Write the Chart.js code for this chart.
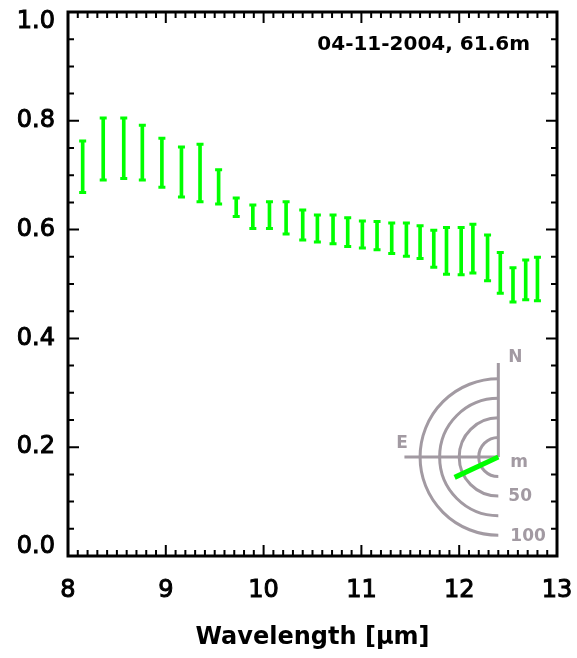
<!DOCTYPE html>
<html>
<head>
<meta charset="utf-8">
<script src="https://cdn.jsdelivr.net/npm/chart.js@4"></script>
<style>
  html, body { margin: 0; padding: 0; background: #fff; }
  #wrap { width: 577px; height: 658px; }
</style>
</head>
<body>
<div id="wrap"><canvas id="spec" width="577" height="658"></canvas></div>
<script>
// visibility per spectral channel: lower / upper bound of each error bar
const wavelength = [8.15, 8.36, 8.57, 8.76, 8.96, 9.16, 9.35, 9.54, 9.72, 9.89,
                    10.06, 10.23, 10.40, 10.55, 10.71, 10.86, 11.01, 11.16, 11.31, 11.46,
                    11.60, 11.74, 11.87, 12.02, 12.14, 12.29, 12.42, 12.55, 12.68, 12.80];
const upper = [0.763, 0.805, 0.805, 0.792, 0.768, 0.752, 0.757, 0.710, 0.658, 0.645,
               0.651, 0.651, 0.636, 0.627, 0.627, 0.622, 0.616, 0.615, 0.612, 0.612,
               0.607, 0.599, 0.604, 0.604, 0.610, 0.590, 0.558, 0.530, 0.544, 0.549];
const lower = [0.668, 0.691, 0.694, 0.691, 0.678, 0.660, 0.651, 0.647, 0.624, 0.602,
               0.602, 0.592, 0.581, 0.577, 0.574, 0.569, 0.566, 0.563, 0.556, 0.551,
               0.547, 0.531, 0.518, 0.517, 0.520, 0.506, 0.483, 0.467, 0.471, 0.469];

const obsLabel = '04-11-2004, 61.6m';

// projected baseline shown in the compass inset
const baselineLength = 61.6;   // m
const baselineAngle = 115;     // deg, from N through E
const rings = [25, 50, 75, 100];
const ringLabels = ['50', '100'];
const compassPos = [12.4, 0.182]; // centre, in data units
const compassSpan = 0.8;          // x-units covered by the 100 m ring

const GREEN = '#00ff00';
const GREY = '#a29aa2';
const FONT = 'DejaVu Sans';

// box with inward ticks on all four sides
const frame = {
  id: 'frame',
  afterDraw(chart) {
    const { ctx, chartArea: a, scales: { x, y } } = chart;
    ctx.save();
    ctx.strokeStyle = '#000';
    ctx.lineWidth = 2;
    ctx.beginPath();
    for (let i = 0; i <= 50; i++) {
      const px = x.getPixelForValue(8 + i * 0.1);
      const len = i % 10 === 0 ? 11 : 6;
      ctx.moveTo(px, a.bottom); ctx.lineTo(px, a.bottom - len);
      ctx.moveTo(px, a.top); ctx.lineTo(px, a.top + len);
    }
    for (let i = 0; i <= 20; i++) {
      const py = y.getPixelForValue(i * 0.05);
      const len = i % 4 === 0 ? 11 : 6;
      ctx.moveTo(a.left, py); ctx.lineTo(a.left + len, py);
      ctx.moveTo(a.right, py); ctx.lineTo(a.right - len, py);
    }
    ctx.stroke();
    ctx.lineWidth = 3;
    ctx.strokeRect(a.left, a.top, a.width, a.height);
    ctx.restore();
  }
};

// end caps for the floating bars
const caps = {
  id: 'caps',
  afterDatasetsDraw(chart) {
    const ctx = chart.ctx;
    const meta = chart.getDatasetMeta(0);
    ctx.save();
    ctx.strokeStyle = GREEN;
    ctx.lineWidth = 3;
    ctx.beginPath();
    meta.data.forEach(bar => {
      ctx.moveTo(bar.x - 3.5, bar.y); ctx.lineTo(bar.x + 3.5, bar.y);
      ctx.moveTo(bar.x - 3.5, bar.base); ctx.lineTo(bar.x + 3.5, bar.base);
    });
    ctx.stroke();
    ctx.restore();
  }
};

const dateLabel = {
  id: 'dateLabel',
  afterDraw(chart) {
    const { ctx, chartArea: a } = chart;
    ctx.save();
    ctx.font = `bold 20px "${FONT}"`;
    ctx.fillStyle = '#000';
    ctx.textAlign = 'right';
    ctx.textBaseline = 'alphabetic';
    ctx.fillText(obsLabel, a.right - 27, a.top + 38);
    ctx.restore();
  }
};

// N/E compass with rings every 25 m and the baseline in green
const compass = {
  id: 'compass',
  afterDraw(chart) {
    const { ctx, scales: { x, y } } = chart;
    const cx = x.getPixelForValue(compassPos[0]);
    const cy = y.getPixelForValue(compassPos[1]);
    const k = (x.getPixelForValue(compassPos[0] + compassSpan) - cx) / rings[rings.length - 1];
    const arm = 120 * k;
    ctx.save();
    ctx.strokeStyle = GREY;
    ctx.lineWidth = 3;
    ctx.beginPath();
    ctx.moveTo(cx, cy); ctx.lineTo(cx, cy - arm);
    ctx.moveTo(cx, cy); ctx.lineTo(cx - arm, cy);
    ctx.stroke();
    rings.forEach(r => {
      ctx.beginPath();
      ctx.arc(cx, cy, r * k, -Math.PI / 2, Math.PI / 2, true);
      ctx.stroke();
    });

    const t = baselineAngle * Math.PI / 180;
    ctx.strokeStyle = GREEN;
    ctx.lineWidth = 5;
    ctx.beginPath();
    ctx.moveTo(cx, cy);
    ctx.lineTo(cx - Math.sin(t) * baselineLength * k, cy - Math.cos(t) * baselineLength * k);
    ctx.stroke();

    ctx.fillStyle = GREY;
    ctx.font = `bold 17px "${FONT}"`;
    ctx.textBaseline = 'alphabetic';
    ctx.textAlign = 'left';
    ctx.fillText('N', cx + 10, cy - 95);
    ctx.fillText('E', cx - 102, cy - 9);
    ctx.fillText('m', cx + 12, cy + 10);
    ctx.fillText(ringLabels[0], cx + 10, cy + 44);
    ctx.fillText(ringLabels[1], cx + 12, cy + 84);
    ctx.restore();
  }
};

new Chart(document.getElementById('spec'), {
  type: 'bar',
  data: {
    datasets: [{
      data: wavelength.map((w, i) => ({ x: w, y: [lower[i], upper[i]] })),
      backgroundColor: GREEN,
      borderWidth: 0,
      barThickness: 3
    }]
  },
  options: {
    responsive: false,
    animation: false,
    layout: { padding: { top: 12, right: 20, left: 0, bottom: 0 } },
    plugins: { legend: { display: false }, tooltip: { enabled: false } },
    scales: {
      x: {
        type: 'linear',
        min: 8, max: 13,
        offset: false,
        grid: { display: false, drawTicks: false },
        border: { display: false },
        ticks: {
          stepSize: 1, padding: 20, color: '#000',
          textStrokeColor: '#000', textStrokeWidth: 1,
          font: { family: FONT, size: 24 }
        },
        title: {
          display: true, text: 'Wavelength [μm]', color: '#000',
          font: { family: FONT, size: 24, weight: 'bold' }, padding: { top: 0, bottom: 6 }
        },
        afterFit(s) { s.height = 102; s.paddingLeft = 0; s.paddingRight = 0; }
      },
      y: {
        min: 0, max: 1,
        grid: { display: false, drawTicks: false },
        border: { display: false },
        ticks: {
          stepSize: 0.2, padding: 13, color: '#000',
          textStrokeColor: '#000', textStrokeWidth: 1,
          font: { family: FONT, size: 24, lineHeight: 0.8 },
          // end labels sit inside the frame: push them off the corners by half a line
          callback: v => v === 1 ? ['', '1.0'] : v === 0 ? ['0.0', ''] : v.toFixed(1)
        },
        afterFit(s) { s.width = 68; s.paddingTop = 0; s.paddingBottom = 0; }
      }
    }
  },
  plugins: [frame, caps, dateLabel, compass]
});
</script>
</body>
</html>
